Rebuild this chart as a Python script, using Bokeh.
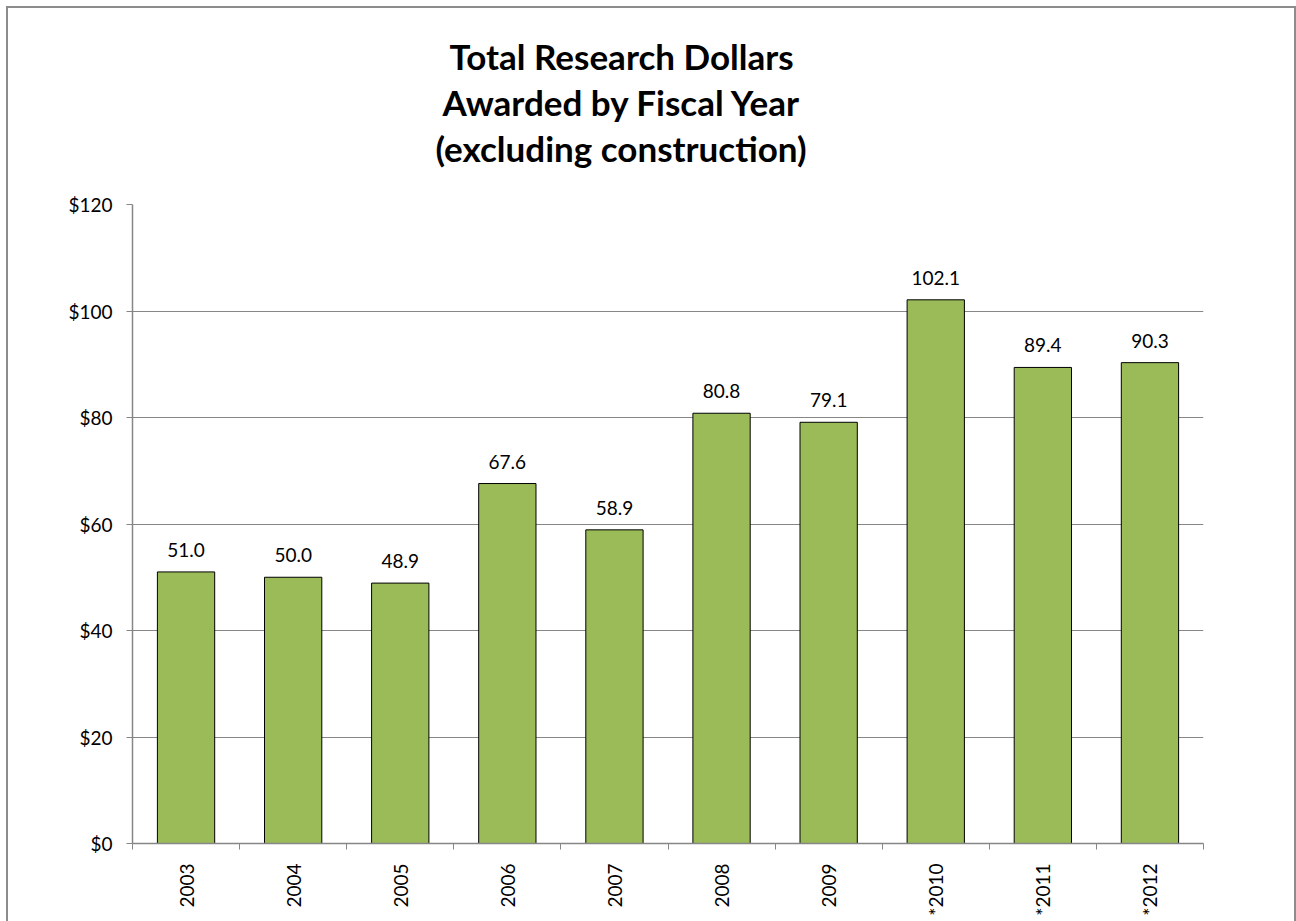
import math
from bokeh.plotting import figure
from bokeh.models import (ColumnDataSource, FixedTicker, Range1d, Title,
                          NumeralTickFormatter)
from bokeh.core.properties import value
from bokeh.embed import file_html
from bokeh.resources import INLINE

# ---- data ----
years = ["2003", "2004", "2005", "2006", "2007", "2008", "2009", "*2010", "*2011", "*2012"]
dollars = [51.0, 50.0, 48.9, 67.6, 58.9, 80.8, 79.1, 102.1, 89.4, 90.3]
labels = ["51.0", "50.0", "48.9", "67.6", "58.9", "80.8", "79.1", "102.1", "89.4", "90.3"]
y_ticks = [0, 20, 40, 60, 80, 100, 120]
title_lines = ["Total Research Dollars", "Awarded by Fiscal Year", "(excluding construction)"]
# left offsets (px from frame left) that centre each title line over x≈621
title_offsets = [317, 310, 303]

FONT = "Lato"
n = len(years)
centers = [i + 0.5 for i in range(n)]

src = ColumnDataSource(dict(x=centers, top=dollars, label=labels))

p = figure(width=1286, height=913, output_backend="svg", toolbar_location=None,
           x_range=Range1d(0, n), y_range=Range1d(0, 120),
           min_border_left=124, min_border_right=91, min_border_bottom=78,
           min_border_top=196)
p.margin = (8, 0, 0, 8)
p.outline_line_color = None
p.background_fill_color = "white"
p.border_fill_color = "white"
p.styles = {"outline": "2px solid #8c8c8c", "outline-offset": "0px"}

# blank spacer between the title block and the plot frame
p.add_layout(Title(text=" ", text_font=FONT, text_font_size="27px", standoff=0),
             "above")
# titles (added in reverse order so the first line ends up on top)
for line, off in reversed(list(zip(title_lines, title_offsets))):
    p.add_layout(Title(text=line, align="left", offset=off, standoff=2,
                       text_font=FONT, text_font_size="35px",
                       text_font_style="bold", text_color="black"), "above")

p.vbar(x="x", top="top", width=0.535, source=src, fill_color="#9BBB59",
       line_color="black", line_width=1)

p.text(x="x", y="top", text="label", source=src, text_align="center",
       text_baseline="alphabetic", y_offset=-22, text_font=value(FONT),
       text_font_size="19px", text_color="black")

# y axis
p.yaxis.ticker = FixedTicker(ticks=y_ticks)
p.yaxis.formatter = NumeralTickFormatter(format="$0")
p.yaxis.axis_line_color = "#868686"
p.yaxis.axis_line_width = 1.5
p.yaxis.major_tick_line_color = "#868686"
p.yaxis.major_tick_out = 6
p.yaxis.major_tick_in = 0
p.yaxis.minor_tick_line_color = None
p.yaxis.major_label_text_font = FONT
p.yaxis.major_label_text_font_size = "19px"
p.yaxis.major_label_text_color = "black"
p.yaxis.major_label_standoff = 14

# x axis: labels at centres, tick marks at category boundaries
p.xaxis.ticker = FixedTicker(ticks=centers, minor_ticks=list(range(n + 1)))
p.xaxis.major_label_overrides = {c: y for c, y in zip(centers, years)}
p.xaxis.major_label_orientation = math.pi / 2
p.xaxis.axis_line_color = "#868686"
p.xaxis.axis_line_width = 1.5
p.xaxis.major_tick_line_color = None
p.xaxis.major_tick_out = 0
p.xaxis.major_tick_in = 0
p.xaxis.minor_tick_line_color = "#868686"
p.xaxis.minor_tick_out = 6
p.xaxis.minor_tick_in = 0
p.xaxis.major_label_text_font = FONT
p.xaxis.major_label_text_font_size = "19px"
p.xaxis.major_label_text_color = "black"
p.xaxis.major_label_standoff = 14

p.xgrid.grid_line_color = None
p.ygrid.ticker = FixedTicker(ticks=y_ticks)
p.ygrid.grid_line_color = "#868686"
p.ygrid.grid_line_width = 1

open("out.html", "w").write(file_html(p, INLINE))
